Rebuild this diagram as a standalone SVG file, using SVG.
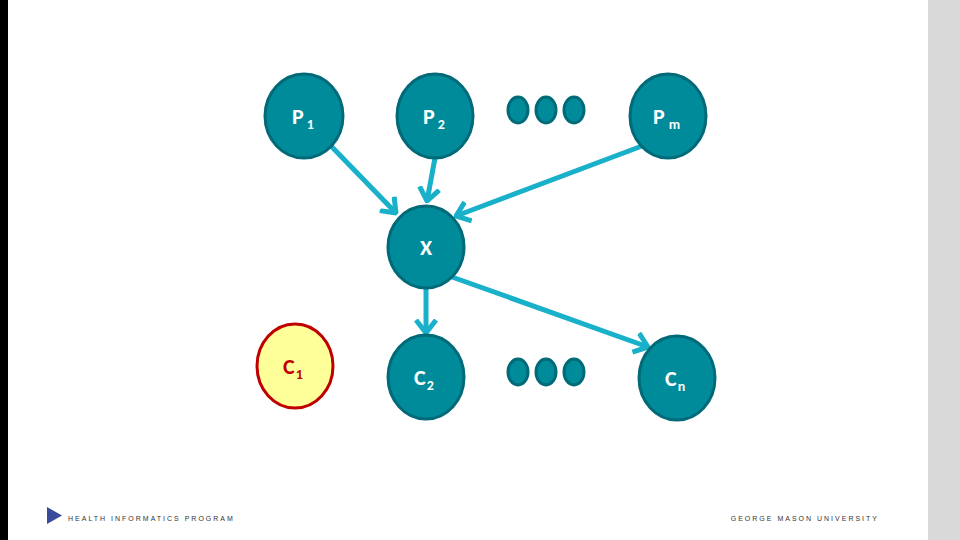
<svg xmlns="http://www.w3.org/2000/svg" width="960" height="540" viewBox="0 0 960 540">
<style>
.n{fill:#008b9a;stroke:#006a78;stroke-width:3}
.t{font-family:Calibri,"Liberation Sans",sans-serif;font-weight:bold;fill:#fff;font-size:22px}
.s{font-size:14px}
.e{stroke:#19b0c9;stroke-width:5;fill:none;marker-end:url(#a)}
.f{font-family:"Liberation Sans",sans-serif;font-size:7px;letter-spacing:2px;fill:#333}
</style>
<defs>
<marker id="a" markerUnits="userSpaceOnUse" viewBox="-14 -12 16 24" refX="0" refY="0" markerWidth="16" markerHeight="24" orient="auto">
<polyline points="-13,-10 0,0 -13,10" fill="none" stroke="#19b0c9" stroke-width="5"/>
</marker>
</defs>
<rect width="960" height="540" fill="#fff"/>
<rect x="0" y="0" width="8" height="540" fill="#000"/>
<rect x="928" y="0" width="32" height="540" fill="#d9d9d9"/>
<g id="connectors">
<line class="e" x1="330" y1="145" x2="396" y2="213"/>
<line class="e" x1="435" y1="158" x2="427" y2="201"/>
<line class="e" x1="642" y1="146" x2="456" y2="216"/>
<line class="e" x1="426" y1="289" x2="426" y2="333"/>
<line class="e" x1="452" y1="277" x2="648" y2="347"/>
</g>
<g id="P1"><ellipse class="n" cx="304" cy="116" rx="39" ry="42"/><text class="t" x="292" y="124">P<tspan class="s" dx="3" dy="5">1</tspan></text></g>
<g id="P2"><ellipse class="n" cx="435" cy="116" rx="38" ry="42"/><text class="t" x="423" y="124">P<tspan class="s" dx="3" dy="5">2</tspan></text></g>
<g id="dots-top"><ellipse class="n" cx="518" cy="110" rx="10" ry="13"/><ellipse class="n" cx="546" cy="110" rx="10" ry="13"/><ellipse class="n" cx="574" cy="110" rx="10" ry="13"/></g>
<g id="Pm"><ellipse class="n" cx="668" cy="116" rx="38" ry="42"/><text class="t" x="653" y="124">P<tspan class="s" dx="4" dy="5">m</tspan></text></g>
<g id="X"><ellipse class="n" cx="426" cy="247" rx="38" ry="41"/><text class="t" x="426" y="255" text-anchor="middle">X</text></g>
<g id="C1"><ellipse cx="295" cy="366" rx="38" ry="42" fill="#ffff99" stroke="#c00000" stroke-width="3"/><text class="t" x="283" y="374" fill="#c00000" style="fill:#c00000">C<tspan class="s" dx="1" dy="5">1</tspan></text></g>
<g id="C2"><ellipse class="n" cx="426" cy="377" rx="38" ry="42"/><text class="t" x="414" y="385">C<tspan class="s" dx="1" dy="5">2</tspan></text></g>
<g id="dots-bottom"><ellipse class="n" cx="518" cy="372" rx="10" ry="13"/><ellipse class="n" cx="546" cy="372" rx="10" ry="13"/><ellipse class="n" cx="574" cy="372" rx="10" ry="13"/></g>
<g id="Cn"><ellipse class="n" cx="677" cy="378" rx="38" ry="42"/><text class="t" x="665" y="386">C<tspan class="s" dx="1" dy="5">n</tspan></text></g>
<g id="footer">
<polygon points="47,507 62,515.5 47,524" fill="#3b4a9a"/>
<text class="f" x="68" y="521">HEALTH INFORMATICS PROGRAM</text>
<text class="f" x="879" y="521" text-anchor="end">GEORGE MASON UNIVERSITY</text>
</g>
</svg>
